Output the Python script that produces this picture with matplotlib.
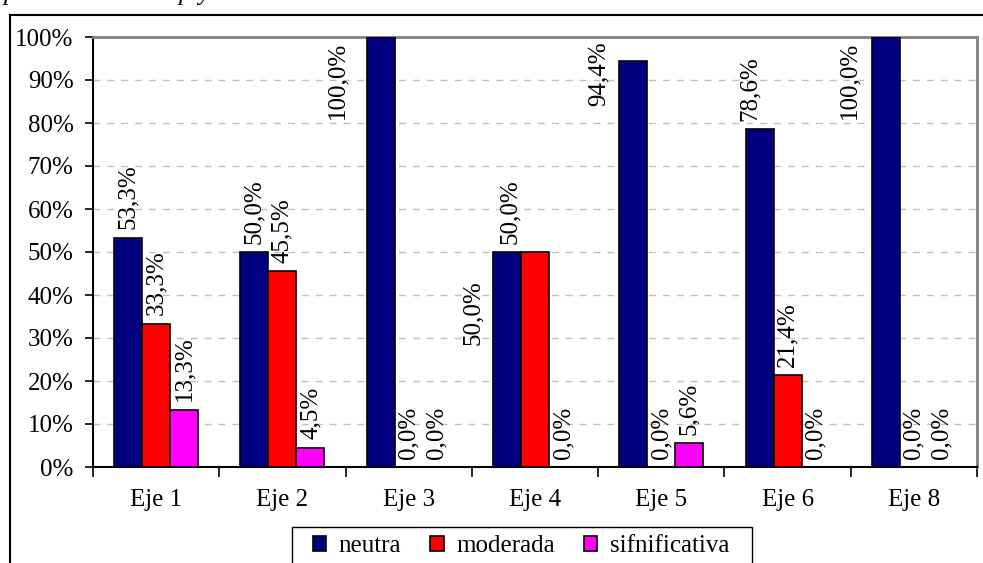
import numpy as np
import matplotlib
matplotlib.use("Agg")
import matplotlib.pyplot as plt
from matplotlib.lines import Line2D
from matplotlib.patches import Patch, Rectangle

plt.rcParams['font.family'] = ['Liberation Serif', 'DejaVu Serif']
plt.rcParams['font.size'] = 18

categories = ['Eje 1', 'Eje 2', 'Eje 3', 'Eje 4', 'Eje 5', 'Eje 6', 'Eje 8']
series = ['neutra', 'moderada', 'sifnificativa']
neutra = [53.3, 50.0, 100.0, 50.0, 94.4, 78.6, 100.0]
moderada = [33.3, 45.5, 0.0, 50.0, 0.0, 21.4, 0.0]
sifnificativa = [13.3, 4.5, 0.0, 0.0, 5.6, 0.0, 0.0]
colors = ['#000080', '#FF0000', '#FF00FF']
yticks = [0, 10, 20, 30, 40, 50, 60, 70, 80, 90, 100]

# labels that Excel moved: (category, series) -> (shift in bar widths, y, va)
moved = {
    (2, 0): (-1.55, 99.0, 'top'),
    (3, 0): (-1.2, 43.5, 'top'),
    (3, 1): (-0.9, 50.0, 'bottom'),
    (4, 0): (-1.25, 99.0, 'top'),
    (5, 0): (-0.35, 78.6, 'bottom'),
    (6, 0): (-1.3, 99.0, 'top'),
}

fig = plt.figure(figsize=(9.83, 5.63), dpi=100)
ax = fig.add_axes([93/983, 96/563, 884/983, 430/563])

w = 0.222
x = np.arange(len(categories))
data = [neutra, moderada, sifnificativa]
for j, vals in enumerate(data):
    xs = x + (j - 1) * w
    ax.bar(xs, vals, w, color=colors[j], edgecolor='black', linewidth=1.2, zorder=3)
    for i, v in enumerate(vals):
        lab = ('%.1f%%' % v).replace('.', ',')
        if (i, j) in moved:
            dx, yy, va = moved[(i, j)]
            ax.annotate(lab, (xs[i] + dx * w, yy), xytext=(0, 0 if va == 'top' else 6),
                        textcoords='offset points', rotation=90, ha='center', va=va)
        else:
            ax.annotate(lab, (xs[i], v), xytext=(0, 6), textcoords='offset points',
                        rotation=90, ha='center', va='bottom')

ax.set_xlim(-0.5, len(categories) - 0.5)
ax.set_ylim(0, 100)
ax.set_yticks(yticks)
ax.set_yticklabels(['%d%%' % t for t in yticks])
ax.set_xticks(x)
ax.set_xticklabels(categories)
ax.set_xticks(np.arange(len(categories) + 1) - 0.5, minor=True)
ax.tick_params(axis='x', which='major', length=0, pad=16)
ax.tick_params(axis='x', which='minor', length=7, width=1.2, direction='out')
ax.tick_params(axis='y', length=6, width=1.2, direction='out', pad=8)

ax.yaxis.grid(True, color='#c0c0c0', linestyle=(0, (5, 5)), linewidth=1)
ax.set_axisbelow(True)
for s in ['left', 'bottom']:
    ax.spines[s].set_color('black')
    ax.spines[s].set_linewidth(1.5)
for s in ['top', 'right']:
    ax.spines[s].set_color('#808080')
    ax.spines[s].set_linewidth(2)

# legend box runs past the bottom edge, so draw it by hand
fig.add_artist(Rectangle((292/983, -0.05), 460/983, 0.05 + 36/563, transform=fig.transFigure,
                         facecolor='white', edgecolor='black', linewidth=1.0))
handles = [Patch(facecolor=c, edgecolor='black', linewidth=1.2) for c in colors]
leg = fig.legend(handles, series, loc='center left', bbox_to_anchor=(305/983, 17/563),
                 ncol=3, frameon=False, handlelength=0.55, handleheight=0.55,
                 handletextpad=0.5, columnspacing=1.15, borderpad=0.3, borderaxespad=0)

# outer frame of the chart area
fig.add_artist(Line2D([10/983, 10/983], [0, 548/563], color='black', linewidth=1.5))
fig.add_artist(Line2D([10/983, 1], [548/563, 548/563], color='black', linewidth=1.5))

# caption cut off above the picture
for px, ch in [(3, 'p'), (178, 'p'), (198, 'y')]:
    fig.text(px/983, 1.0, ch, style='italic', va='baseline', ha='left')

fig.savefig('out.png', dpi=100)
